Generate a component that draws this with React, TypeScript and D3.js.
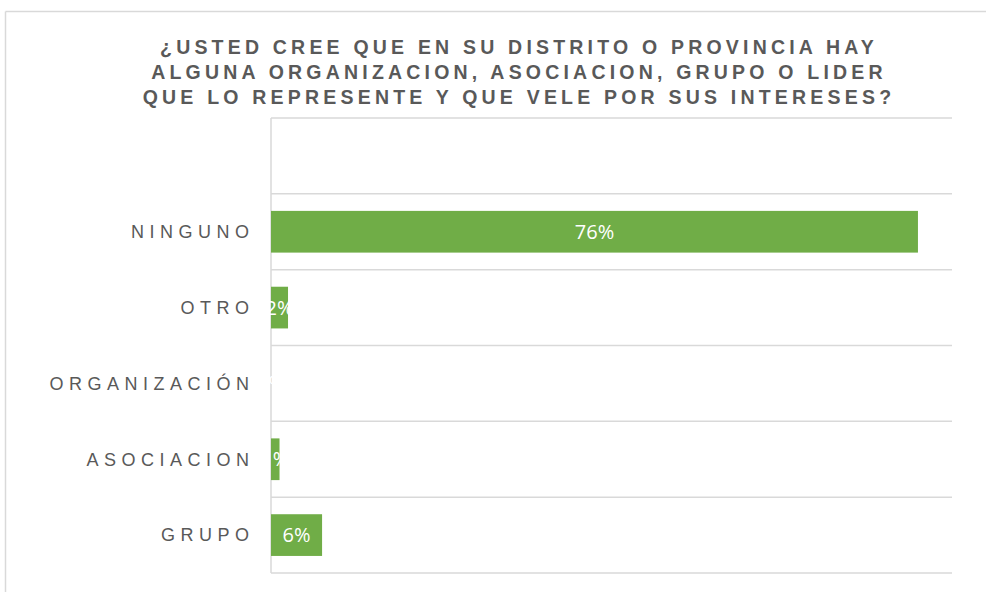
import React from "react";
import * as d3 from "d3";

const categories = ["", "NINGUNO", "OTRO", "ORGANIZACIÓN", "ASOCIACION", "GRUPO"];
const values: (number | null)[] = [null, 0.76, 0.02, 0, 0.01, 0.06];
const valueLabels = ["", "76%", "2%", "0%", "1%", "6%"];
const titleLines = [
  "¿USTED CREE QUE EN SU DISTRITO O PROVINCIA HAY",
  "ALGUNA ORGANIZACION, ASOCIACION, GRUPO O LIDER",
  "QUE LO REPRESENTE Y QUE VELE POR SUS INTERESES?",
];

const W = 986;
const H = 592;
const plot = { left: 271, right: 952, top: 118, bottom: 573 };
const GRID = "#d9d9d9";
const BAR = "#70ad47";
const TEXT = "#595959";

export default function App() {
  const x = d3.scaleLinear().domain([0, 0.8]).range([plot.left, plot.right]);
  const y = d3.scaleBand<string>().domain(categories).range([plot.top, plot.bottom]).padding(0);
  const step = y.step();
  const barH = step * 0.55;
  const boundaries = d3.range(categories.length + 1).map((i) => plot.top + i * step);

  return (
    <svg
      width={W}
      height={H}
      style={{ position: "absolute", left: 0, top: 0, background: "#fff" }}
    >
      <rect x={0} y={0} width={W} height={H} fill="#fff" />
      {/* outer chart border */}
      <line x1={5.5} y1={11.5} x2={W + 5} y2={11.5} stroke={GRID} strokeWidth={1.5} />
      <line x1={5.5} y1={11.5} x2={5.5} y2={H + 5} stroke={GRID} strokeWidth={1.5} />

      {/* title */}
      <g fontFamily="'Liberation Sans', Arial, sans-serif" fontWeight="bold" fontSize={19.5} fill={TEXT}>
        {titleLines.map((t, i) => (
          <text key={i} x={519} y={54 + i * 25} textAnchor="middle" letterSpacing={4.2}>
            {t}
          </text>
        ))}
      </g>

      {/* gridlines */}
      {boundaries.map((b, i) => (
        <line key={i} x1={plot.left} x2={plot.right} y1={b} y2={b} stroke={GRID} strokeWidth={1.5} />
      ))}
      {/* axis line */}
      <line x1={plot.left} x2={plot.left} y1={plot.top} y2={plot.bottom} stroke={GRID} strokeWidth={1.5} />

      {/* category labels */}
      <g fontFamily="'Liberation Sans', Arial, sans-serif" fontSize={18} fill={TEXT}>
        {categories.map((c, i) => (
          <text
            key={i}
            x={plot.left - 16.5}
            y={(y(c) as number) + step / 2}
            dy="0.35em"
            textAnchor="end"
            letterSpacing={5.5}
          >
            {c}
          </text>
        ))}
      </g>

      {/* bars */}
      {categories.map((c, i) => {
        const v = values[i];
        if (v == null) return null;
        const y0 = (y(c) as number) + (step - barH) / 2;
        return <rect key={i} x={x(0)} y={y0} width={x(v) - x(0)} height={barH} fill={BAR} />;
      })}

      {/* value labels */}
      <g fontFamily="'Open Sans', 'Noto Sans', sans-serif" fontSize={20} fill="#fff">
        {categories.map((c, i) => {
          const v = values[i];
          if (v == null) return null;
          return (
            <text
              key={i}
              x={(x(0) + x(v)) / 2}
              y={(y(c) as number) + step / 2}
              dy="0.35em"
              textAnchor="middle"
            >
              {valueLabels[i]}
            </text>
          );
        })}
      </g>
    </svg>
  );
}
